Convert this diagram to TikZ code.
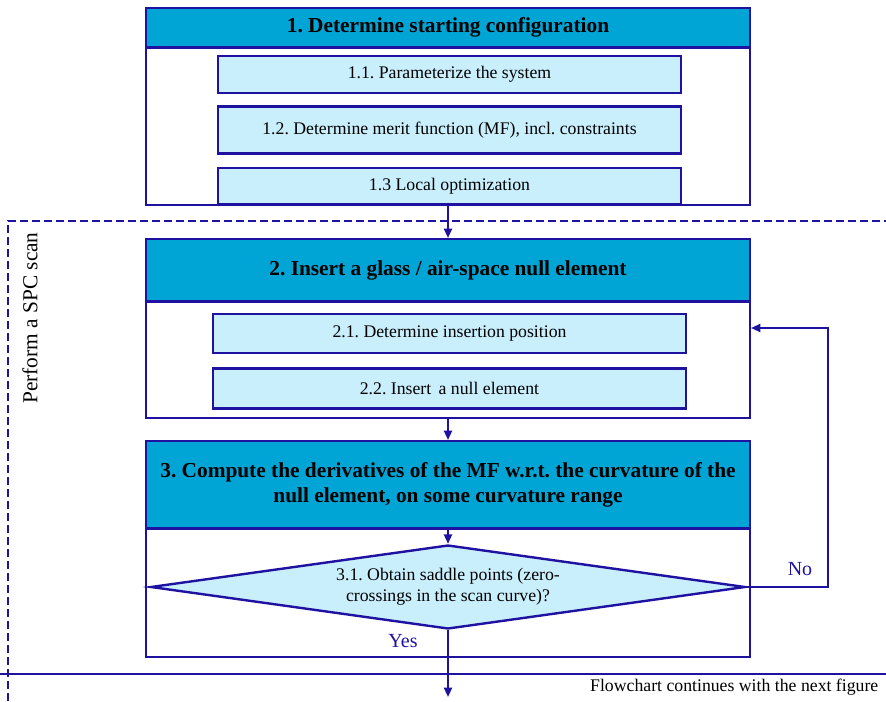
\documentclass[tikz,border=0pt]{standalone}
\usepackage{fontspec}
\setmainfont{Liberation Serif}
\usetikzlibrary{arrows.meta,positioning,shapes.geometric}
\definecolor{edge}{RGB}{32,18,160}
\definecolor{hdr}{RGB}{0,165,213}
\definecolor{sub}{RGB}{201,239,253}
\frenchspacing

\begin{document}
\begin{tikzpicture}[x=0.75pt,y=-0.75pt,node distance=0pt,
  hdrbox/.style={rectangle,draw=edge,fill=hdr,line width=1.5pt,
                 minimum width=453pt,align=center,
                 font=\fontsize{16}{19}\selectfont\bfseries},
  bodybox/.style={rectangle,draw=edge,fill=white,line width=1.5pt,
                  minimum width=453pt},
  subbox/.style={rectangle,draw=edge,fill=sub,line width=1.8pt,
                 font=\fontsize{13.3}{16}\selectfont},
  arr/.style={draw=edge,line width=1.5pt,-{Triangle[length=7pt,width=6pt]}},
  lbl/.style={text=edge,font=\fontsize{15}{18}\selectfont}]

  \useasboundingbox (0,0) rectangle (886,701);

  % step 1
  \node (h1) [hdrbox,minimum height=29.25pt,anchor=north] at (448,7)
    {1. Determine starting configuration};
  \node (b1) [bodybox,minimum height=118pt,below=-1pt of h1] {};
  \node (s11) [subbox,minimum width=347.25pt,minimum height=27.75pt,anchor=north] at (449.5,55)
    {1.1. Parameterize the system};
  \node (s12) [subbox,minimum width=347.25pt,minimum height=35.25pt,below=8.25pt of s11]
    {1.2. Determine merit function (MF), incl. constraints};
  \node (s13) [subbox,minimum width=347.25pt,minimum height=27pt,below=9pt of s12]
    {1.3 Local optimization};

  % SPC scan frame
  \draw[edge,line width=1.1pt,dash pattern=on 6pt off 3pt] (8,701) -- (8,221) -- (886,221);
  \node (scan) [rotate=90,font=\fontsize{16}{19}\selectfont] at (30,318) {Perform a SPC scan};

  % step 2
  \node (h2) [hdrbox,minimum height=46.5pt,anchor=north] at (448,238)
    {2. Insert a glass / air-space null element};
  \node (b2) [bodybox,minimum height=87.5pt,below=-1pt of h2] {};
  \node (s21) [subbox,minimum width=354.75pt,minimum height=29.25pt,anchor=north] at (449.5,313)
    {2.1. Determine insertion position};
  \node (s22) [subbox,minimum width=354.75pt,minimum height=30pt,below=9.75pt of s21]
    {2.2. Insert\, a null element};

  % step 3
  \node (h3) [hdrbox,minimum height=65.25pt,anchor=north] at (448,440)
    {3. Compute the derivatives of the MF w.r.t. the curvature of the\\
     null element, on some curvature range};
  \node (b3) [bodybox,minimum height=96.5pt,below=-1pt of h3] {};
  \node (d) [diamond,draw=edge,fill=sub,line width=1.8pt,aspect=7,inner sep=1pt,
             minimum width=446pt,minimum height=63pt,align=center,
             font=\fontsize{13.3}{16}\selectfont] at (448,587)
    {3.1. Obtain saddle points (zero-\\crossings in the scan curve)?};

  % connectors
  \foreach \a/\b in {b1/h2,b2/h3,h3/d}{
    \draw[arr] (\a.south) -- (\b.north);
  }
  \coordinate (loop) at (828,328);
  \draw[arr] (d.east) -- (d.east -| loop) -- (loop) -- (b2.east |- loop);
  \node (no) [lbl] at (800,569) {No};
  \node (yes) [lbl] at (403,641) {Yes};
  \coordinate (out) at (448,697);
  \draw[arr] (d.south) -- (out);

  % continuation
  \coordinate (cl) at (0,674);
  \coordinate (cr) at (886,674);
  \draw[edge,line width=1.2pt] (cl) -- (cr);
  \node (next) [anchor=east,font=\fontsize{13.3}{16}\selectfont] at (883,687)
    {Flowchart continues with the next figure};
\end{tikzpicture}
\end{document}
